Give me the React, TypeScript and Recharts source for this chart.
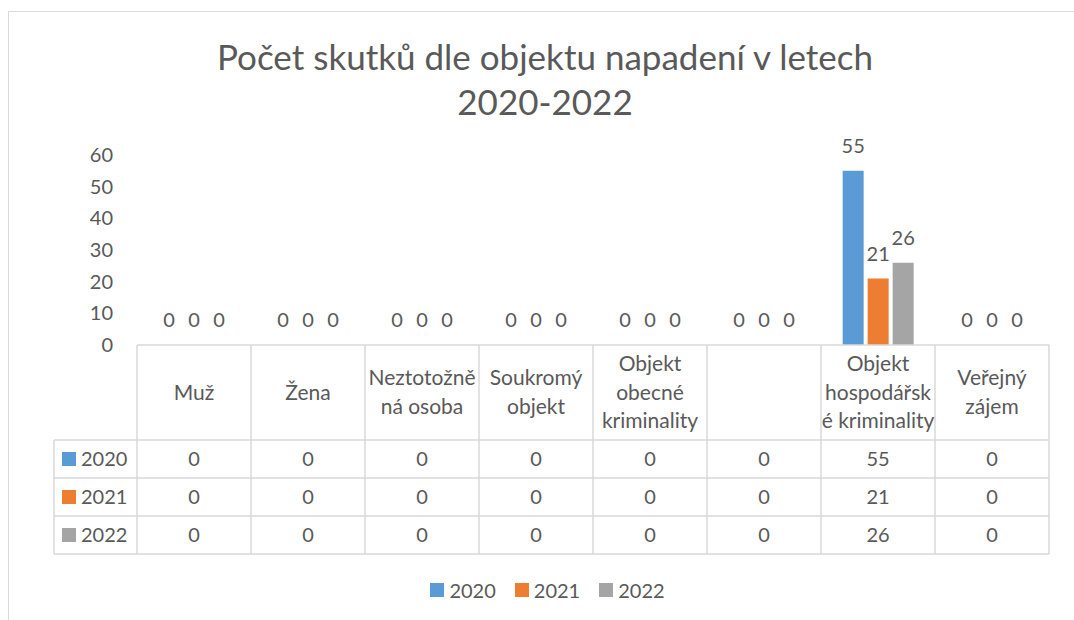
import React from "react";
import { BarChart, Bar, XAxis, YAxis, LabelList, Legend } from "recharts";

const categories: string[][] = [
  ["Muž"],
  ["Žena"],
  ["Neztotožně", "ná osoba"],
  ["Soukromý", "objekt"],
  ["Objekt", "obecné", "kriminality"],
  [""],
  ["Objekt", "hospodářsk", "é kriminality"],
  ["Veřejný", "zájem"],
];
const values2020 = [0, 0, 0, 0, 0, 0, 55, 0];
const values2021 = [0, 0, 0, 0, 0, 0, 21, 0];
const values2022 = [0, 0, 0, 0, 0, 0, 26, 0];
const seriesNames = ["2020", "2021", "2022"];
const seriesColors = ["#5B9BD5", "#ED7D31", "#A5A5A5"];
const yTicks = [0, 10, 20, 30, 40, 50, 60];
const seriesValues = [values2020, values2021, values2022];

const data = categories.map((lines, i) => ({
  key: "c" + i,
  lines,
  s2020: values2020[i],
  s2021: values2021[i],
  s2022: values2022[i],
}));

const CHART_W = 1074;
const CHART_H = 620;
const MARGIN = { top: 155, right: 25, bottom: 10, left: 0 };
const YAXIS_W = 137;
const LEGEND_H = 40;
const XAXIS_H = 225;
const PLOT_W = CHART_W - MARGIN.left - MARGIN.right - YAXIS_W;
const PLOT_BOTTOM = CHART_H - MARGIN.bottom - LEGEND_H - XAXIS_H;
const COL_W = PLOT_W / categories.length;
const HEADER_H = 95;
const ROW_H = 38;
const ROWHEAD_LEFT = 54;

const TEXT = "#595959";
const LINE = "#D9D9D9";
const FONT = "Lato, 'Noto Sans', sans-serif";

const TableTick = (props: any) => {
  const { x, payload, index } = props;
  const i = typeof index === "number" ? index : payload.index;
  const y0 = PLOT_BOTTOM;
  const left = x - COL_W / 2;
  const right = x + COL_W / 2;
  const lines: string[] = categories[i] || [""];
  const lh = 28.5;
  const headerCenter = y0 + 47;
  const firstY = headerCenter - ((lines.length - 1) * lh) / 2;
  const rowYs = [0, 1, 2, 3].map((k) => y0 + HEADER_H + k * ROW_H);
  return (
    <g>
      <line x1={left} x2={right} y1={y0} y2={y0} stroke={LINE} strokeWidth={1.5} />
      {rowYs.map((ry, k) => (
        <line key={"h" + k} x1={left} x2={right} y1={ry} y2={ry} stroke={LINE} strokeWidth={1.5} />
      ))}
      <line x1={right} x2={right} y1={y0} y2={rowYs[3]} stroke={LINE} strokeWidth={1.5} />
      {i === 0 && (
        <g>
          <line x1={left} x2={left} y1={y0} y2={rowYs[3]} stroke={LINE} strokeWidth={1.5} />
          <line x1={ROWHEAD_LEFT} x2={ROWHEAD_LEFT} y1={rowYs[0]} y2={rowYs[3]} stroke={LINE} strokeWidth={1.5} />
          {rowYs.map((ry, k) => (
            <line key={"rh" + k} x1={ROWHEAD_LEFT} x2={left} y1={ry} y2={ry} stroke={LINE} strokeWidth={1.5} />
          ))}
          {seriesNames.map((n, k) => (
            <g key={"rn" + k}>
              <rect x={62} y={rowYs[k] + ROW_H / 2 - 7} width={14} height={14} fill={seriesColors[k]} />
              <text x={81} y={rowYs[k] + ROW_H / 2} dy="0.36em" fill={TEXT} fontSize={20} fontFamily={FONT}>
                {n}
              </text>
            </g>
          ))}
        </g>
      )}
      <text textAnchor="middle" fill={TEXT} fontSize={21} fontFamily={FONT}>
        {lines.map((l, k) => (
          <tspan key={k} x={x} y={firstY + k * lh} dy="0.36em">
            {l}
          </tspan>
        ))}
      </text>
      {seriesValues.map((vals, k) => (
        <text
          key={"v" + k}
          x={x}
          y={rowYs[k] + ROW_H / 2}
          dy="0.36em"
          textAnchor="middle"
          fill={TEXT}
          fontSize={20}
          fontFamily={FONT}
        >
          {vals[i]}
        </text>
      ))}
    </g>
  );
};

const BarValueLabel = (props: any) => {
  const { x, y, width, value } = props;
  if (x == null || y == null || value == null) return null;
  return (
    <text
      x={Number(x) + Number(width) / 2}
      y={Number(y) - 18}
      textAnchor="middle"
      fill={TEXT}
      fontSize={20}
      fontFamily={FONT}
    >
      {value}
    </text>
  );
};

const LegendContent = () => (
  <div
    style={{
      height: LEGEND_H,
      display: "flex",
      alignItems: "center",
      justifyContent: "center",
      paddingLeft: 46,
      boxSizing: "border-box",
      fontFamily: FONT,
      fontSize: 20,
      color: TEXT,
    }}
  >
    {seriesNames.map((n, k) => (
      <span key={n} style={{ display: "inline-flex", alignItems: "center", marginLeft: k ? 19 : 0 }}>
        <span style={{ display: "inline-block", width: 14, height: 14, background: seriesColors[k], marginRight: 5 }} />
        {n}
      </span>
    ))}
  </div>
);

export default function App() {
  return (
    <div style={{ position: "fixed", left: 0, top: 0, width: CHART_W, height: CHART_H, background: "#fff", overflow: "hidden" }}>
      <div
        style={{
          position: "absolute",
          left: 8,
          top: 11,
          width: 1100,
          height: 700,
          border: "1.5px solid #D9D9D9",
          boxSizing: "border-box",
        }}
      />
      <div
        style={{
          position: "absolute",
          left: 0,
          top: 34,
          width: 1090,
          textAlign: "center",
          fontFamily: FONT,
          fontSize: 35,
          lineHeight: "45px",
          color: TEXT,
        }}
      >
        Počet skutků dle objektu napadení v letech
        <br />
        2020-2022
      </div>
      <div style={{ position: "absolute", left: 0, top: 0 }}>
        <BarChart
          width={CHART_W}
          height={CHART_H}
          data={data}
          margin={MARGIN}
          barCategoryGap="19%"
          barGap={4}
        >
          <XAxis
            dataKey="key"
            axisLine={false}
            tickLine={false}
            tickSize={0}
            tickMargin={0}
            interval={0}
            height={XAXIS_H}
            tick={<TableTick />}
          />
          <YAxis
            width={YAXIS_W}
            domain={[0, 60]}
            ticks={yTicks}
            axisLine={false}
            tickLine={false}
            tickSize={0}
            tickMargin={24}
            tick={{ fill: TEXT, fontSize: 20, fontFamily: FONT }}
          />
          <Legend verticalAlign="bottom" height={LEGEND_H} content={<LegendContent />} />
          {["s2020", "s2021", "s2022"].map((k, idx) => (
            <Bar
              key={k}
              dataKey={k}
              name={seriesNames[idx]}
              fill={seriesColors[idx]}
              minPointSize={0.01}
              isAnimationActive={false}
            >
              <LabelList dataKey={k} content={<BarValueLabel />} />
            </Bar>
          ))}
        </BarChart>
      </div>
    </div>
  );
}
